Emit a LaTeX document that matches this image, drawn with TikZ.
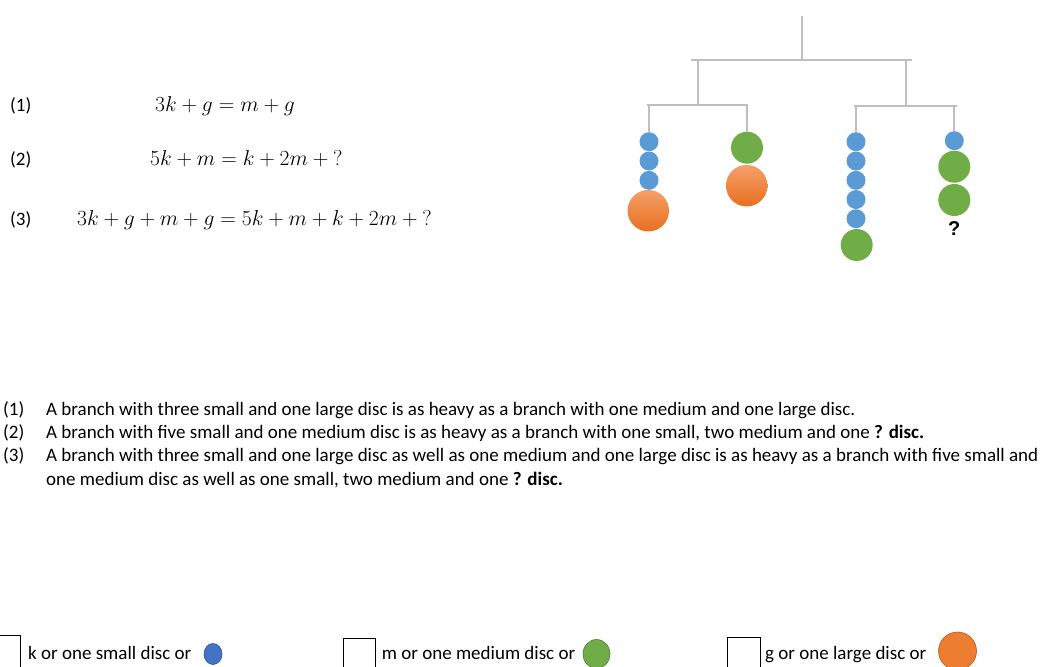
\documentclass[tikz,border=0pt]{standalone}
\usepackage{fontspec}
\usetikzlibrary{shapes.geometric}
\setmainfont{Carlito}
\newfontfamily\qfont{Liberation Sans}
\definecolor{barGray}{HTML}{BFBFBF}
\definecolor{sblue}{HTML}{5B9BD5}
\definecolor{mgreen}{HTML}{70AD47}
\definecolor{oLight}{HTML}{F4A06A}
\definecolor{oDark}{HTML}{E86F1E}
\definecolor{lblue}{HTML}{4472C4}
\definecolor{lblueD}{HTML}{2F528F}
\definecolor{lgreenD}{HTML}{507E32}
\definecolor{lorange}{HTML}{ED7D31}
\definecolor{lorangeD}{HTML}{AE5A21}
\newcommand{\qm}{\mathord{?}}
\begin{document}
\begin{tikzpicture}[x=1pt,y=-1pt,
  bar/.style={draw=barGray, line width=2pt},
  smalldisc/.style={circle, fill=sblue, minimum size=19pt, inner sep=0pt},
  meddisc/.style={circle, fill=mgreen, minimum size=32pt, inner sep=0pt},
  largedisc/.style={circle, top color=oLight, bottom color=oDark, minimum size=41.5pt, inner sep=0pt},
  txt/.style={anchor=base west, inner sep=0pt, font=\fontsize{19}{23}\selectfont},
  eqn/.style={anchor=base west, inner sep=0pt, font=\fontsize{21}{25}\selectfont},
  legbox/.style={draw=black, line width=0.8pt},
]
\useasboundingbox (0,0) rectangle (1053,667);
\clip (0,0) rectangle (1053,667);

% ---------- equations ----------
\node[txt] (l1) at (10,111) {(1)};
\node[eqn] (e1) at (155,111) {\scalebox{1.04}{$3k+g=m+g$}};
\node[txt] (l2) at (10,165) {(2)};
\node[eqn] (e2) at (150,165) {\scalebox{1.04}{$5k+m=k+2m+\qm$}};
\node[txt] (l3) at (10,225) {(3)};
\node[eqn] (e3) at (77,225) {\scalebox{1.04}{$3k+g+m+g=5k+m+k+2m+\qm$}};

% ---------- mobile ----------
\coordinate (hook) at (801.7,16);
\coordinate (tm) at (801.7,60);
\coordinate (tl) at (690.7,60);
\coordinate (tr) at (912.3,60);
\coordinate (lt) at (697.7,60);
\coordinate (lb) at (697.7,105);
\coordinate (rt) at (906,60);
\coordinate (rb) at (906,106);
\coordinate (lbl) at (646.7,105);
\coordinate (lbr) at (748.3,105);
\coordinate (rbl) at (854.3,106);
\coordinate (rbr) at (956.7,106);
\coordinate (sa) at (649,105);
\coordinate (sb) at (747,105);
\coordinate (sc) at (856,106);
\coordinate (sd) at (954.3,106);

\draw[bar] (hook) -- (tm);
\draw[bar] (tl) -- (tr);
\draw[bar] (lt) -- (lb);
\draw[bar] (rt) -- (rb);
\draw[bar] (lbl) -- (lbr);
\draw[bar] (rbl) -- (rbr);

% left-left
\node[smalldisc] (a1) at (649,141.7) {};
\node[smalldisc] (a2) at (649,161) {};
\node[smalldisc] (a3) at (649,180.3) {};
\node[largedisc] (a4) at (648.3,210.7) {};
% left-right
\node[meddisc] (b1) at (747,147.7) {};
\node[largedisc] (b2) at (746.7,185.7) {};
% right-left
\node[smalldisc] (c1) at (856,141.7) {};
\node[smalldisc] (c2) at (856,161) {};
\node[smalldisc] (c3) at (856,180.3) {};
\node[smalldisc] (c4) at (856,199.5) {};
\node[smalldisc] (c5) at (856,218.7) {};
\node[meddisc] (c6) at (856.7,245) {};
% right-right
\node[smalldisc] (d1) at (954.3,140.7) {};
\node[meddisc] (d2) at (954.3,166.7) {};
\node[meddisc] (d3) at (954.3,200) {};
\node[inner sep=0pt, font=\qfont\bfseries\fontsize{20}{22}\selectfont] (dq) at (954.3,228.5) {?};

\draw[bar] (sa) -- (a1.north);
\draw[bar] (sb) -- (b1.north);
\draw[bar] (sc) -- (c1.north);
\draw[bar] (sd) -- (d1.north);

% ---------- sentences ----------
\node[txt] (p1) at (3,415) {(1)};
\node[txt] (t1) at (46,415) {A branch with three small and one large disc is as heavy as a branch with one medium and one large disc.};
\node[txt] (p2) at (3,438.3) {(2)};
\node[txt] (t2) at (46,438.3) {A branch with five small and one medium disc is as heavy as a branch with one small, two medium and one \textbf{? disc.}};
\node[txt] (p3) at (3,461.6) {(3)};
\node[txt] (t3) at (46,461.6) {A branch with three small and one large disc as well as one medium and one large disc is as heavy as a branch with five small and};
\node[txt] (t4) at (46,485) {one medium disc as well as one small, two medium and one \textbf{? disc.}};

% ---------- legend ----------
\draw[legbox] (-13,635) rectangle (20,690);
\node[txt] (k1) at (28,659) {k or one small disc or};
\node[ellipse, draw=lblueD, fill=lblue, line width=0.6pt, minimum width=18pt, minimum height=21pt, inner sep=0pt] (kd) at (213,654) {};
\draw[legbox] (343.3,638) rectangle (375.7,690);
\node[txt] (m1) at (381.7,659) {m or one medium disc or};
\node[ellipse, draw=lgreenD, fill=mgreen, line width=0.6pt, minimum width=27pt, minimum height=29pt, inner sep=0pt] (md) at (596.5,654) {};
\draw[legbox] (727.3,637) rectangle (760,690);
\node[txt] (g1) at (765,659) {g or one large disc or};
\node[ellipse, draw=lorangeD, fill=lorange, line width=0.6pt, minimum width=38pt, minimum height=38pt, inner sep=0pt] (gd) at (957.5,651) {};
\end{tikzpicture}
\end{document}
